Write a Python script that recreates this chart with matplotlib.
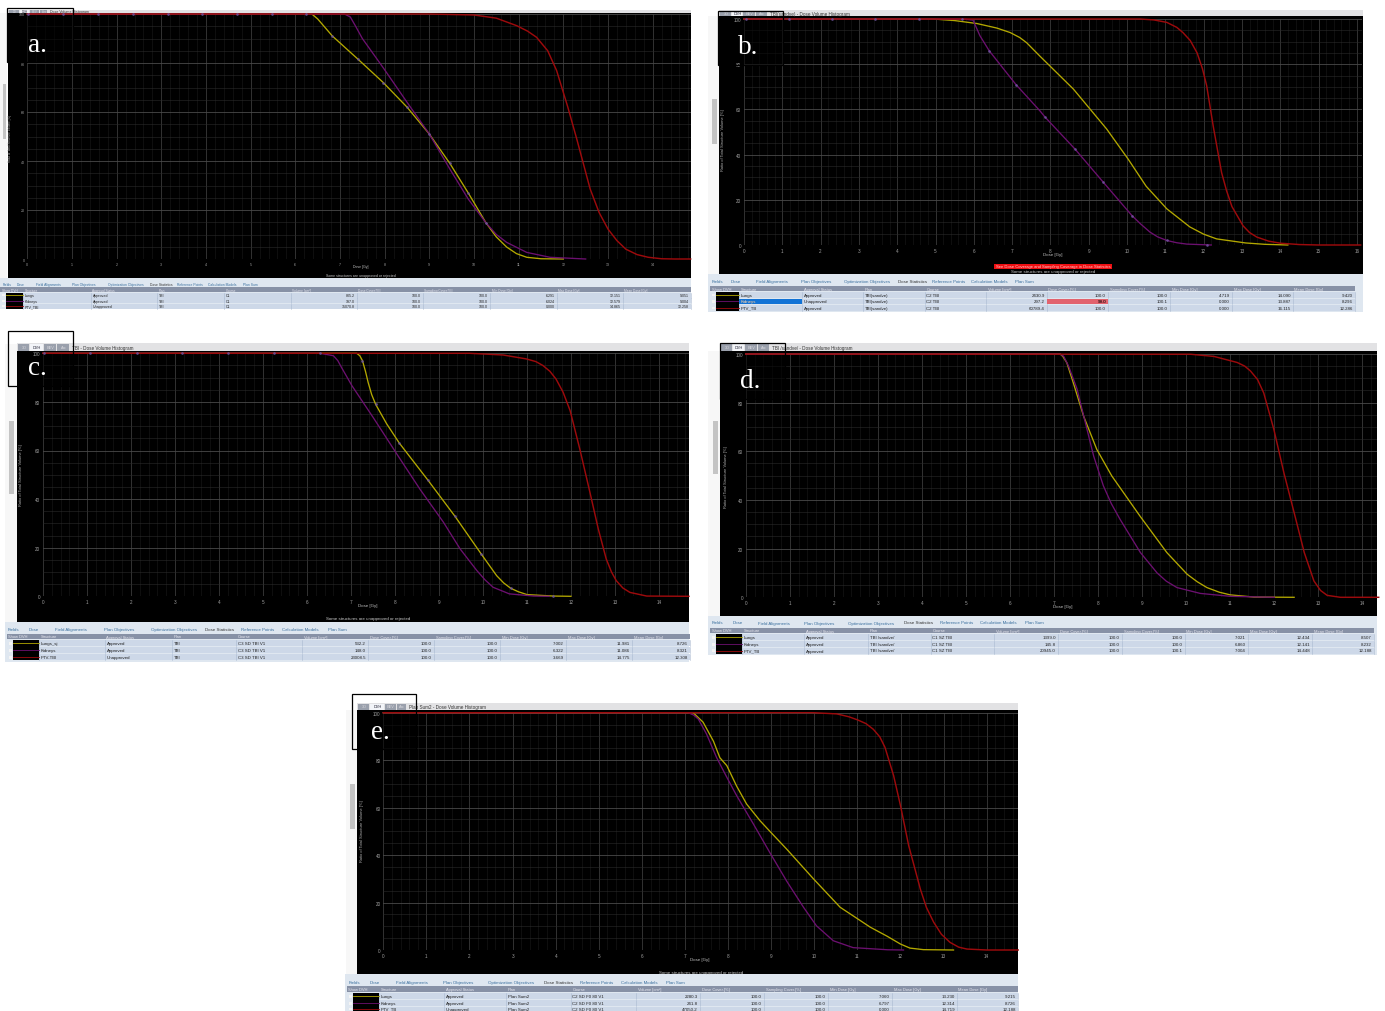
import matplotlib
matplotlib.use("Agg")
import matplotlib.pyplot as plt
from matplotlib.patches import Rectangle
from matplotlib.ticker import MultipleLocator

plt.rcParams["font.family"] = ["Liberation Sans", "DejaVu Sans"]

# dose [Gy], volume [%]
a_lung_d = [0, 6.37, 6.5, 6.83, 7.23, 7.4, 7.97, 8.5, 9, 9.46, 9.87, 10.27, 10.5, 10.73, 10.95, 11.18, 11.5, 12]
a_lung_v = [100, 100, 98, 91, 84.4, 81.6, 72, 62, 51, 39, 27, 14.7, 9, 4.9, 2.2, 0.7, 0.1, 0]
a_kid_d = [0, 7.1, 7.23, 7.35, 7.5, 7.97, 8.5, 9, 9.46, 9.87, 10.27, 10.5, 10.73, 11.18, 11.7, 12.5]
a_kid_v = [100, 100, 98.8, 95, 90, 78, 64, 51, 36.7, 24.5, 14.7, 10, 6.8, 2.7, 0.7, 0]
a_ptv_d = [0, 9, 10, 10.5, 10.96, 11.2, 11.4, 11.65, 11.85, 12.1, 12.3, 12.6, 12.8, 13, 13.2, 13.4, 13.65, 13.9, 14.2, 14.5, 14.85]
a_ptv_v = [100, 100, 99.6, 98.3, 95.2, 93, 90.5, 85, 76.9, 62, 49, 28.6, 19, 12.2, 7.5, 4, 1.8, 0.7, 0.1, 0, 0]
a_mark_d = [0.02, 0.8, 1.58, 2.36, 3.14, 3.92, 4.7, 5.47, 6.25, 6.83, 7.4, 7.97, 8.5, 9, 9.46, 9.87, 10.27]
a_mark_v = [100, 100, 100, 100, 100, 100, 100, 100, 100, 91, 81.6, 72, 62, 51, 39, 27, 14.7]

b_lung_d = [0, 4.94, 5.5, 6.08, 6.6, 6.95, 7.2, 7.38, 7.73, 8.6, 9.47, 10.03, 10.5, 11.04, 11.64, 12, 12.34, 13.1, 13.6, 14.2]
b_lung_v = [100, 100, 99.3, 98, 96, 94, 91.8, 89.5, 83.5, 69, 51.3, 38, 26, 16, 8, 4.8, 2.7, 0.9, 0.3, 0]
b_kid_d = [0, 5.72, 5.98, 6.16, 6.4, 7.1, 7.73, 7.86, 8.64, 9.37, 10.13, 10.35, 10.6, 10.8, 11.04, 11.3, 11.56, 12.2]
b_kid_v = [100, 100, 99.5, 92.6, 86, 71, 59.3, 56.6, 42.5, 28, 13, 9.4, 5.7, 3.6, 2, 1, 0.4, 0]
b_ptv_d = [0, 10.34, 10.7, 11.04, 11.3, 11.46, 11.65, 11.83, 11.97, 12.08, 12.25, 12.47, 12.6, 12.74, 13.03, 13.2, 13.39, 13.7, 14, 14.5, 15, 16.1]
b_ptv_v = [100, 100, 99.6, 98.5, 96.3, 94, 90.5, 85, 78, 70.5, 52.7, 32, 24, 17, 8.5, 5.5, 3.5, 1.7, 0.8, 0.2, 0, 0]
b_mark_d = [0.04, 1.18, 2.3, 3.43, 4.56, 5.7, 6.4, 7.1, 7.86, 8.64, 9.37, 10.13, 11.04, 12.1]
b_mark_v = [100, 100, 100, 100, 100, 100, 86, 71, 56.6, 42.5, 28, 13, 2, 0]

c_lung_d = [0, 7.13, 7.2, 7.26, 7.33, 7.39, 7.47, 7.56, 7.81, 8.1, 8.74, 9.36, 9.96, 10.31, 10.47, 10.63, 10.8, 11, 11.6, 12]
c_lung_v = [100, 100, 99, 97, 92.5, 88, 83, 79, 71, 63, 48, 33, 17.4, 8.5, 5.5, 3.3, 1.9, 0.7, 0.1, 0]
c_kid_d = [0, 6.3, 6.6, 6.7, 6.79, 7.02, 7.5, 8.04, 8.57, 9.1, 9.48, 9.86, 10.05, 10.23, 10.6, 11.15, 11.5]
c_kid_v = [100, 100, 99, 97, 94, 86.7, 73.7, 58.6, 44, 30.5, 19.5, 10.6, 6.7, 3.7, 1, 0.1, 0]
c_ptv_d = [0, 9.7, 10.46, 10.98, 11.2, 11.36, 11.52, 11.66, 11.82, 11.98, 12.2, 12.43, 12.62, 12.8, 12.92, 13.03, 13.18, 13.34, 13.72, 14.68]
c_ptv_v = [100, 100, 99.3, 97.7, 96.6, 95, 92.6, 89.4, 84, 76.4, 60.6, 42.8, 27.7, 15.4, 10, 6.4, 3.4, 1.6, 0.1, 0]
c_mark_d = [0.03, 1.07, 2.13, 3.16, 4.21, 5.25, 6.29, 7.26, 7.56, 8.1, 8.74, 9.36, 9.96, 10.63, 11.6]
c_mark_v = [100, 100, 100, 100, 100, 100, 100, 97, 79, 63, 48, 33, 17.4, 3.3, 0.1]

d_lung_d = [0, 7.14, 7.2, 7.29, 7.44, 7.67, 7.97, 8.31, 8.95, 9.56, 10.02, 10.25, 10.47, 10.75, 11, 11.54, 12.45]
d_lung_v = [100, 100, 99, 96.4, 88, 74.5, 60.8, 49.9, 33.4, 18.4, 9.5, 6.4, 4, 2.1, 1, 0.1, 0]
d_kid_d = [0, 7.14, 7.22, 7.33, 7.52, 7.71, 7.9, 8.12, 8.3, 8.5, 8.96, 9.34, 9.55, 9.79, 10.32, 11, 12]
d_kid_v = [100, 100, 99, 95, 85.7, 71.8, 58, 45.8, 38.5, 32, 18.4, 10, 6.6, 4, 1.6, 0.4, 0]
d_ptv_d = [0, 10.1, 10.63, 11.16, 11.33, 11.46, 11.62, 11.76, 11.99, 12.22, 12.45, 12.68, 12.9, 13.05, 13.2, 13.5, 14.37]
d_ptv_v = [100, 99.9, 99, 96.5, 95, 93, 89.5, 84, 69, 51, 34.8, 18.4, 6.7, 2.8, 0.8, 0, 0]

e_lung_d = [0, 7.19, 7.42, 7.66, 7.81, 7.97, 8.2, 8.43, 8.74, 8.97, 9.36, 9.98, 10.6, 11.3, 11.69, 12, 12.22, 12.53, 13.23]
e_lung_v = [100, 100, 96, 88, 81, 77.7, 69, 61.5, 54.5, 50, 42.5, 30, 18, 9.6, 5.8, 2.5, 0.8, 0.15, 0]
e_kid_d = [0, 7.08, 7.2, 7.31, 7.5, 7.73, 7.97, 8.2, 8.59, 8.97, 9.36, 9.75, 10.05, 10.44, 10.9, 11.7, 12.07]
e_kid_v = [100, 100, 99, 97.3, 91, 81.2, 72.8, 65, 53, 41, 29, 18, 10.2, 3.9, 1, 0.1, 0]
e_ptv_d = [0, 9.98, 10.52, 10.8, 11, 11.2, 11.37, 11.52, 11.64, 11.84, 12, 12.19, 12.46, 12.6, 12.77, 12.95, 13.15, 13.35, 13.54, 14, 14.73]
e_ptv_v = [100, 100, 99.5, 98.3, 97, 95.4, 93, 89.8, 85.4, 73.5, 60.8, 44, 25.7, 18, 11.7, 6.6, 3.2, 1.2, 0.4, 0, 0]

headers = ["Show DVH", "Structure", "Approval Status", "Plan", "Course", "Volume [cm³]",
           "Dose Cover.[%]", "Sampling Cover.[%]", "Min Dose [Gy]", "Max Dose [Gy]", "Mean Dose [Gy]"]
tabs = ["Fields", "Dose", "Field Alignments", "Plan Objectives", "Optimization Objectives",
        "Dose Statistics", "Reference Points", "Calculation Models", "Plan Sum"]

a_rows = [["Lungs", "Approved", "TBI", "C1", "805.2", "100.0", "100.0", "6.291", "12.151", "9.051"],
          ["Kidneys", "Approved", "TBI", "C1", "197.0", "100.0", "100.0", "6.024", "12.579", "9.004"],
          ["PTV_TBI", "Unapproved", "TBI", "C1", "35070.8", "100.0", "100.0", "0.000", "14.865", "12.258"]]
b_rows = [["Lungs", "Approved", "TBI(sandve)", "C2 TBI", "2430.9", "100.0", "100.0", "4.719", "14.090", "9.420"],
          ["Kidneys", "Unapproved", "TBI(sandve)", "C2 TBI", "297.2", "99.0", "100.1", "0.000", "13.887", "8.296"],
          ["PTV_TB", "Approved", "TBI(sandve)", "C2 TBI", "60789.4", "100.0", "100.0", "0.000", "16.115", "12.286"]]
c_rows = [["Lungs_sj", "Approved", "TBI", "C3 SD TBI V1", "532.2", "100.0", "100.0", "7.002", "11.981", "8.726"],
          ["Kidneys", "Approved", "TBI", "C3 SD TBI V1", "148.0", "100.0", "100.0", "6.322", "11.086", "8.321"],
          ["PTV-TBI", "Unapproved", "TBI", "C3 SD TBI V1", "23008.5", "100.0", "100.0", "3.669", "14.775", "12.308"]]
d_rows = [["Lungs", "Approved", "TBI /sandve/", "C1 SZ TBI", "1399.0", "100.0", "100.0", "7.021", "12.434", "8.507"],
          ["Kidneys", "Approved", "TBI /sandve/", "C1 SZ TBI", "145.8", "100.0", "100.0", "6.860", "12.141", "8.232"],
          ["PTV_TB", "Approved", "TBI /sandve/", "C1 SZ TBI", "20945.0", "100.0", "100.1", "7.004", "14.448", "12.188"]]
e_rows = [["Lungs", "Approved", "Plan Sum2", "C2 SD F0 80 V1", "2280.3", "100.0", "100.0", "7.060", "13.230", "9.215"],
          ["Kidneys", "Approved", "Plan Sum2", "C2 SD F0 80 V1", "241.8", "100.0", "100.0", "6.797", "12.314", "8.726"],
          ["PTV_TB", "Unapproved", "Plan Sum2", "C2 SD F0 80 V1", "47050.2", "100.0", "100.0", "0.000", "14.719", "12.188"]]

LUNG = "#b3a800"
KID = "#6c1070"
PTV = "#9c0a0c"
W, H = 1385, 1012

fig = plt.figure(figsize=(13.85, 10.12), dpi=100, facecolor="white")
bg = fig.add_axes([0, 0, 1, 1], zorder=0)
bg.set_xlim(0, W)
bg.set_ylim(H, 0)
bg.axis("off")
top = fig.add_axes([0, 0, 1, 1], zorder=5)
top.set_xlim(0, W)
top.set_ylim(H, 0)
top.axis("off")
top.patch.set_alpha(0)


def box(x0, y0, x1, y1, color, ax=bg, **kw):
    ax.add_patch(Rectangle((x0, y0), x1 - x0, y1 - y0, facecolor=color, edgecolor="none", **kw))


def plot_panel(px0, px1, y100, y0, xmax, lung, kid, ptv, marks, dim, tick_fs=3.3):
    ax = fig.add_axes([px0 / W, 1 - y0 / H, (px1 - px0) / W, (y0 - y100) / H], zorder=1)
    ax.patch.set_alpha(0)
    ax.set_xlim(0, xmax)
    ax.set_ylim(0, 100)
    for s in ax.spines.values():
        s.set_visible(False)
    ax.set_xticks(range(0, int(xmax) + 1))
    ax.set_yticks([0, 20, 40, 60, 80, 100])
    ax.xaxis.set_minor_locator(MultipleLocator(0.2))
    ax.yaxis.set_minor_locator(MultipleLocator(5))
    ax.tick_params(which="both", length=0, labelsize=tick_fs, colors="#a0a0a0", pad=2)
    ax.set_axisbelow(True)
    ax.xaxis.grid(True, which="major", color="#454545", lw=0.5)
    ax.yaxis.grid(True, which="major", color="#4a4a4a", lw=0.6)
    ax.xaxis.grid(True, which="minor", color="#1a1a1a", lw=0.4)
    ax.yaxis.grid(True, which="minor", color="#2b2b2b", lw=0.4)
    ax.add_patch(Rectangle((dim[0], dim[1]), dim[2] - dim[0], dim[3] - dim[1], transform=bg.transData,
                           facecolor="black", alpha=0.55, edgecolor="none", zorder=1))
    ax.plot(lung[0], lung[1], color=LUNG, lw=0.95, clip_on=False, zorder=3)
    ax.plot(kid[0], kid[1], color=KID, lw=0.95, clip_on=False, zorder=3.1)
    ax.plot(ptv[0], ptv[1], color=PTV, lw=1.05, clip_on=False, zorder=3.2)
    if marks:
        ax.plot(marks[0], marks[1], ls="none", marker="o", ms=1.9, mfc="#6f55a0", mec="none",
                alpha=0.85, clip_on=False, zorder=3.3)
    return ax


def table(cols, head, rows_y, rows, tab_x, tab_y, fs=3.2, tab_fs=3.2, sel=None, warn=None):
    box(cols[0], head[0], cols[-1], head[1], "#8791a6")
    for x, name in zip(cols, headers):
        bg.text(x + 1.5, (head[0] + head[1]) / 2, name, fontsize=fs - 0.3, color="#e8e8f0", va="center", ha="left")
    for (y0, y1), row in zip(rows_y, rows):
        box(cols[1], y0, cols[-1], y1, "#cdd8e8")
        for i, val in enumerate(row):
            if i < 4:
                bg.text(cols[i + 1] + 1.5, (y0 + y1) / 2, val, fontsize=fs, color="#222222", va="center", ha="left")
            else:
                bg.text(cols[i + 2] - 2, (y0 + y1) / 2, val, fontsize=fs, color="#222222", va="center", ha="right")
        for x in cols[1:]:
            bg.plot([x, x], [y0, y1], color="#a9b8cf", lw=0.4)
    swatch_x0 = cols[0] + 6
    box(swatch_x0, rows_y[0][0], cols[1], rows_y[-1][1], "black")
    for (y0, y1), c in zip(rows_y, [LUNG, KID, PTV]):
        bg.plot([swatch_x0, cols[1]], [(y0 + y1) / 2] * 2, color=c, lw=0.6)
        box(cols[0] + 1.5, y0 + 1.5, cols[0] + 4.5, y1 - 1.5, "#f4f4f4")
    for x, name in zip(tab_x, tabs):
        bg.text(x, tab_y, name, fontsize=tab_fs, color="#3a6f9e" if name != "Dose Statistics" else "#333333",
                va="center", ha="left")
    if sel is not None:
        y0, y1 = rows_y[sel]
        box(cols[1], y0, cols[2], y1, "#1273d6", zorder=2)
        bg.text(cols[1] + 1.5, (y0 + y1) / 2, rows[sel][0], fontsize=fs, color="white", va="center", zorder=3)
    if warn is not None:
        y0, y1 = rows_y[warn]
        box(cols[6], y0, cols[7], y1, "#e2636e", zorder=2)
        bg.text(cols[7] - 2, (y0 + y1) / 2, rows[warn][5], fontsize=fs, color="#5a1a20", va="center", ha="right", zorder=3)


def title_strip(x0, x1, y0, y1, tab_x, title, tx, fs=3.3):
    box(x0, y0, x1, y1, "#e2e2e4")
    names = ["3D", "DVH", "BEV", "Arc"]
    for i, n in enumerate(names):
        box(tab_x[i], y0 + 0.5, tab_x[i + 1] - 0.6, y1 - 0.5, "#f2f4f8" if n == "DVH" else "#9aa0ac")
        bg.text((tab_x[i] + tab_x[i + 1]) / 2, (y0 + y1) / 2, n, fontsize=fs - 0.5, ha="center", va="center",
                color="#223" if n == "DVH" else "#d8d8de")
    bg.text(tx, (y0 + y1) / 2, title, fontsize=fs, color="#333333", va="center", ha="left")


def side_bar(x0, x1, y0, y1, sx0, sx1, sy0, sy1):
    box(x0, y0, x1, y1, "#f7f7f7")
    box(sx0, sy0, sx1, sy1, "#c4c4c4")


def label(s, x, y, rect):
    top.add_patch(Rectangle((rect[0], rect[1]), rect[2] - rect[0], rect[3] - rect[1], facecolor="none",
                            edgecolor="black", lw=0.9))
    top.text(x, y, s, fontsize=19.5, color="white", family="Liberation Serif", ha="left", va="baseline")


def notes(ylab_x, ylab_y, dose_x, dose_y, warn_x=None, warn_y=None, fs=3.2, ylab_fs=2.9):
    bg.text(ylab_x, ylab_y, "Ratio of Total Structure Volume [%]", rotation=90, fontsize=ylab_fs, color="#b0b0b0",
            ha="center", va="center")
    bg.text(dose_x, dose_y, "Dose [Gy]", fontsize=fs, color="#c0c0c0", ha="center", va="center")
    if warn_x is not None:
        bg.text(warn_x, warn_y, "Some structures are unapproved or rejected", fontsize=fs, color="#c8c8c8",
                ha="center", va="center")


# panel a
box(0, 279, 691, 310, "#dfe7f0")
side_bar(0, 7, 14, 279, 3, 6, 85, 140)
title_strip(8, 691, 10.5, 14, [9, 20, 30, 40, 48], "Dose Volume Histogram", 50, fs=2.6)
box(7.5, 14, 691, 279, "black")
plot_panel(27.3, 691, 15, 260, (691 - 27.3) / 44.67, (a_lung_d, a_lung_v), (a_kid_d, a_kid_v), (a_ptv_d, a_ptv_v),
           (a_mark_d, a_mark_v), (7.5, 14, 73, 63), tick_fs=2.6)
notes(10, 138, 361, 267, 361, 276.3, fs=2.5, ylab_fs=2.2)
table([0, 23, 91, 157, 224, 291, 357, 423, 490, 557, 623, 691], (288, 293),
      [(293.5, 298.5), (299, 304), (304.5, 309.5)], a_rows,
      [3, 17, 36, 72, 108, 150, 177, 208, 243], 284.5, fs=2.6, tab_fs=2.4)
label("a.", 28, 52, (7, 9, 73, 63))

# panel b
box(708, 275, 1363, 313, "#dfe7f0")
side_bar(708, 719, 17, 275, 712, 717, 100, 145)
title_strip(719, 1363, 11, 17, [720, 732, 743, 756, 768], "TBI(sandve) - Dose Volume Histogram", 770)
box(719, 17, 1363, 275, "black")
plot_panel(744, 1362, 20, 246, (1362 - 744) / 38.3, (b_lung_d, b_lung_v), (b_kid_d, b_kid_v), (b_ptv_d, b_ptv_v),
           (b_mark_d, b_mark_v), (719, 17, 783, 66))
notes(723, 140, 1053, 255, 1053, 272.2)
box(994, 265, 1112, 269.7, "#ee0f12")
bg.text(1053, 267.4, "See Dose Coverage and Sampling Coverage in Dose Statistics", fontsize=3.0, color="#ffd0d0",
        ha="center", va="center")
table([710, 739, 802, 863, 925, 986, 1047, 1108, 1170, 1232, 1293, 1355], (287, 292),
      [(293, 298.5), (299.5, 305), (306, 311.5)], b_rows,
      [712, 731, 756, 801, 844, 898, 932, 971, 1015], 282, sel=1, warn=1)
label("b.", 738, 54, (718, 12, 783, 66))

# panel c
box(5, 623, 689, 663, "#dfe7f0")
side_bar(5, 17, 345, 623, 9, 14, 422, 495)
title_strip(17, 689, 344, 352, [18, 30, 44, 57, 70], "TBI - Dose Volume Histogram", 72)
box(17, 352, 689, 623, "black")
plot_panel(43, 689, 354.3, 597.3, (689 - 43) / 44, (c_lung_d, c_lung_v), (c_kid_d, c_kid_v), (c_ptv_d, c_ptv_v),
           (c_mark_d, c_mark_v), (17, 352, 73, 387))
notes(21, 475, 368, 606, 368, 619.3)
table([7, 39, 105, 172, 236, 302, 368, 434, 500, 566, 632, 690], (635, 640),
      [(641, 647), (648, 654), (655, 661)], c_rows,
      [8, 29, 55, 104, 151, 205, 241, 282, 328], 630)
label("c.", 28, 375, (8, 332, 73, 387))

# panel d
box(708, 617, 1377, 656, "#dfe7f0")
side_bar(708, 720, 352, 617, 713, 718, 422, 475)
title_strip(720, 1377, 344, 352, [721, 733, 745, 758, 770], "TBI /sandve/ - Dose Volume Histogram", 772)
box(720, 352, 1377, 617, "black")
plot_panel(745.7, 1377, 355, 598.3, (1377 - 745.7) / 44.05, (d_lung_d, d_lung_v), (d_kid_d, d_kid_v), (d_ptv_d, d_ptv_v),
           None, (720, 352, 785, 400))
notes(726, 477, 1063, 607)
table([710, 742, 804, 868, 931, 994, 1058, 1122, 1185, 1248, 1312, 1374], (629, 634),
      [(635, 641), (642, 648), (648.5, 654.5)], d_rows,
      [712, 733, 758, 804, 848, 904, 940, 980, 1025], 623.5)
label("d.", 740, 388, (720, 344, 785, 400))

# panel e
box(345, 975, 1018, 1012, "#dfe7f0")
side_bar(346, 357, 711, 975, 350, 355, 785, 830)
title_strip(357, 1018, 704, 711, [358, 370, 385, 397, 407], "Plan Sum2 - Dose Volume Histogram", 409)
box(357, 711, 1018, 975, "black")
plot_panel(383.3, 1018, 713.7, 951, (1018 - 383.3) / 43.1, (e_lung_d, e_lung_v), (e_kid_d, e_kid_v), (e_ptv_d, e_ptv_v),
           None, (357, 711, 416, 750))
notes(362, 831, 700, 960, 701, 973)
table([347, 379, 444, 506, 571, 636, 700, 764, 828, 892, 957, 1018], (987, 993),
      [(994, 1000), (1001, 1007), (1007.5, 1012)], e_rows,
      [349, 370, 396, 443, 488, 544, 580, 621, 666], 983)
label("e.", 371, 739, (352, 695, 416, 750))

fig.savefig("out.png", dpi=100)
